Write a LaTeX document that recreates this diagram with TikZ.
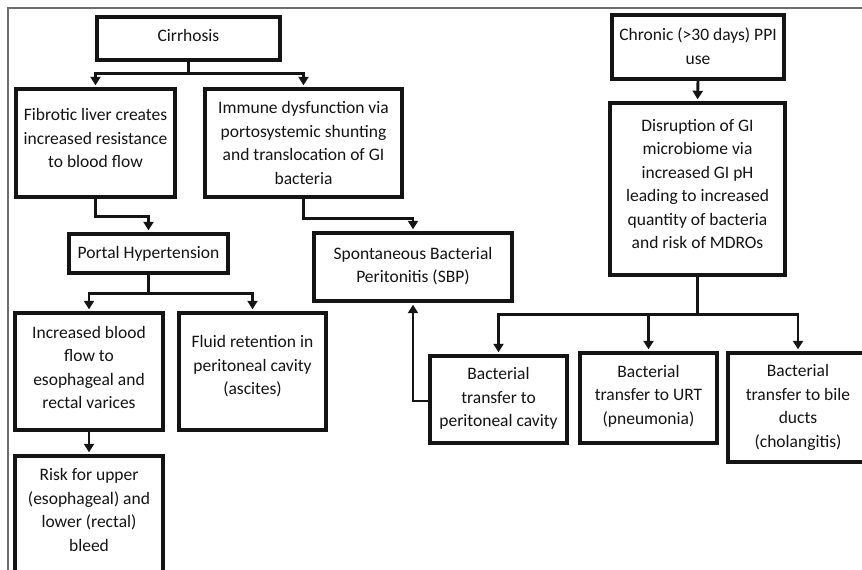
\documentclass[tikz,border=0pt]{standalone}
\usepackage{fontspec}
\setmainfont{Carlito}
\usetikzlibrary{arrows.meta,calc}
\definecolor{ink}{HTML}{141414}
\definecolor{framegray}{HTML}{6E6E6E}
\tikzset{
  boxst/.style={draw=ink, line width=3.4pt, inner sep=0pt, fill=white},
  txtst/.style={align=center, text=ink, inner sep=0pt,
    font=\fontsize{17.5pt}{23.4pt}\selectfont},
  arr/.style={draw=ink, line width=2.9pt,
    -{Triangle[width=10pt,length=8.5pt]}, shorten >=2pt},
}
\newcommand\mybox[7]{%
  \pgfmathsetmacro\bw{#4-#2}\pgfmathsetmacro\bh{#5-#3}%
  \node[boxst, minimum width=\bw pt, minimum height=\bh pt] (#1) at ({(#2+#4)/2},{(#3+#5)/2}) {};
  \node[txtst] (#1-t) at ([yshift=#6pt]#1.center) {#7};}
\begin{document}
\begin{tikzpicture}[x=1pt,y=-1pt]
\useasboundingbox (0,0) rectangle (862,570);
\clip (0,0) rectangle (862,570);
\fill[white] (0,0) rectangle (862,570);
% outer frame
\draw[framegray, line width=2.2pt] (8,600) -- (8,8) -- (900,8);

\mybox{cir}{97}{17}{280}{60}{3}{Cirrhosis}
\mybox{fib}{16}{89}{175}{197}{5}{Fibrotic liver creates\\increased resistance\\to blood flow}
\mybox{imm}{205}{89}{402}{197}{0}{Immune dysfunction via\\portosystemic shunting\\and translocation of GI\\bacteria}
\mybox{ph}{69}{234}{228}{273}{0}{Portal Hypertension}
\mybox{sbp}{314}{233}{512}{301}{1}{Spontaneous Bacterial\\Peritonitis (SBP)}
\mybox{inc}{15}{313}{163}{430}{4}{Increased blood\\flow to\\esophageal and\\rectal varices}
\mybox{flu}{179}{313}{326}{430}{5}{Fluid retention in\\peritoneal cavity\\(ascites)}
\mybox{risk}{15}{456}{163}{574}{5}{Risk for upper\\(esophageal) and\\lower (rectal)\\bleed}
\mybox{ppi}{612}{15}{784}{79}{1}{Chronic (>30 days) PPI\\use}
\mybox{dis}{610}{103}{785}{275}{5}{Disruption of GI\\microbiome via\\increased GI pH\\leading to increased\\quantity of bacteria\\and risk of MDROs}
\mybox{bp}{430}{356}{567}{443}{1}{Bacterial\\transfer to\\peritoneal cavity}
\mybox{urt}{580}{353}{717}{443}{2}{Bacterial\\transfer to URT\\(pneumonia)}
\mybox{bile}{728}{353}{868}{462}{0}{Bacterial\\transfer to bile\\ducts\\(cholangitis)}

% connectors
\draw[arr] (cir.south) -- ++(0,12) -| (fib.north);
\draw[arr] (cir.south) -- ++(0,12) -| (imm.north);
\draw[arr] (fib.south) -- ++(0,18) -| (ph.north);
\draw[arr] (imm.south) -- ++(0,20) -| (sbp.north);
\draw[arr] (ph.south) -- ++(0,19) -| (inc.north);
\draw[arr] (ph.south) -- ++(0,19) -| (flu.north);
\draw[arr] (inc.south) -- (risk.north);
\draw[arr] (ppi.south) -- (dis.north);
\draw[arr] (dis.south) -- ++(0,38) -| (bp.north);
\draw[arr] (dis.south) -- ++(0,38) -| (urt.north);
\draw[arr] (dis.south) -- ++(0,38) -| (bile.north);
\draw[arr] ([yshift=-1.5pt]bp.west) -| (sbp.south);
\end{tikzpicture}
\end{document}
